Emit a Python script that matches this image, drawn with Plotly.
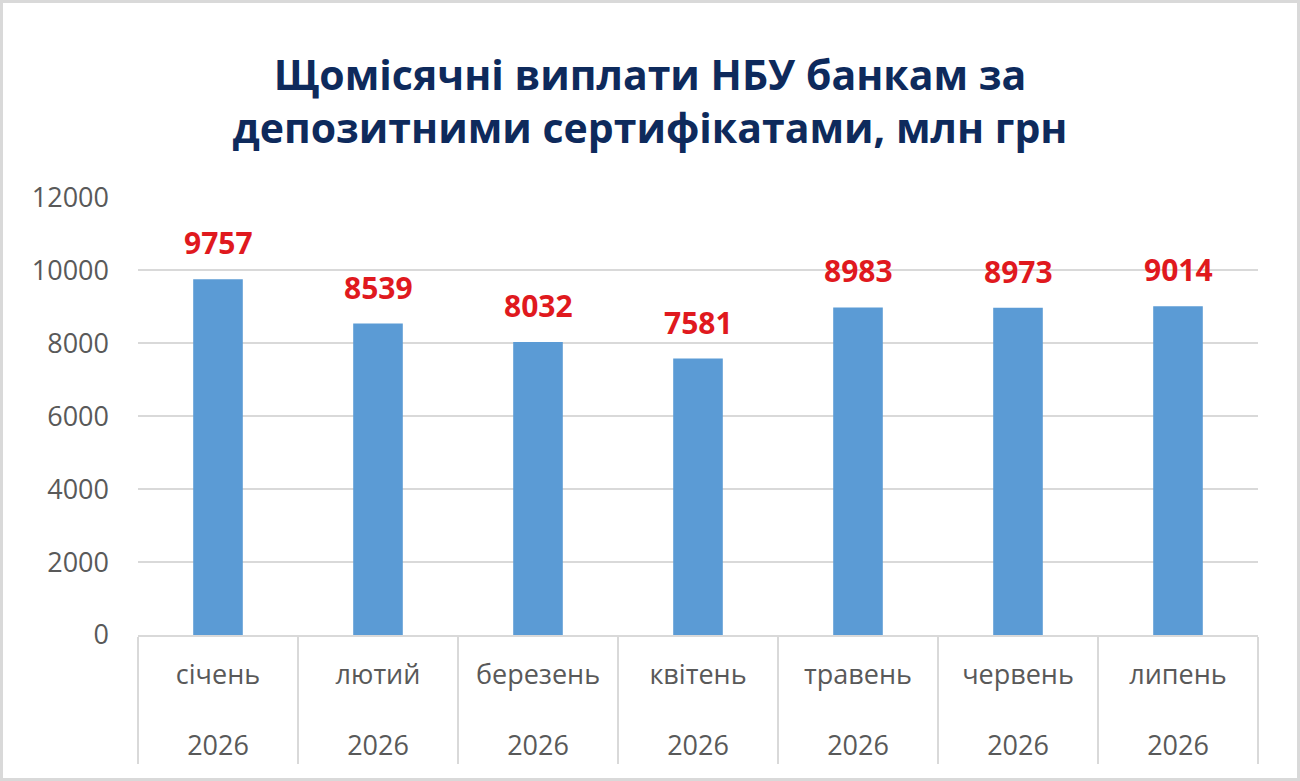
import plotly.graph_objects as go

# monthly NBU payments on deposit certificates, mln UAH
months = ['січень', 'лютий', 'березень', 'квітень', 'травень', 'червень', 'липень']
years = ['2026'] * 7
payments = [9757, 8539, 8032, 7581, 8983, 8973, 9014]

y_ticks = [0, 2000, 4000, 6000, 8000, 10000, 12000]

W, H = 1300, 781
L, R, T, B = 138, 42, 197, 146

tick_text = [m + '<br><br>' + y for m, y in zip(months, years)]

fig = go.Figure()

fig.add_trace(go.Bar(
    x = months,
    y = payments,
    marker = dict(color = '#5b9bd5', line = dict(width = 0)),
    hoverinfo = 'x+y'
))

# data labels above bars
for m, v in zip(months, payments):
    fig.add_annotation(
        x = m, y = v, text = '<b>' + str(v) + '</b>',
        showarrow = False, yanchor = 'bottom', yshift = 14,
        font = dict(family = 'Open Sans', size = 30, color = '#e0191e')
    )

# light border round the whole chart
pw, ph = W - L - R, H - T - B
fig.add_shape(
    type = 'rect', xref = 'paper', yref = 'paper',
    x0 = -(L - 1.5) / pw, x1 = 1 + (R - 1.5) / pw,
    y0 = -(B - 1.5) / ph, y1 = 1 + (T - 1.5) / ph,
    line = dict(color = '#d9d9d9', width = 3), layer = 'below'
)

fig.update_layout(
    width = W, height = H,
    margin = dict(l = L, r = R, t = T, b = B),
    paper_bgcolor = 'white',
    plot_bgcolor = 'white',
    showlegend = False,
    bargap = 0.69,
    font = dict(family = 'Open Sans', color = '#595959'),
    title = dict(
        text = '<b>Щомісячні виплати НБУ банкам за<br>депозитними сертифікатами, млн грн</b>',
        x = 0.5, xanchor = 'center', xref = 'container',
        y = 1 - 90 / H, yanchor = 'top',
        font = dict(family = 'Open Sans', size = 41, color = '#0e2a5c')
    )
)

fig.update_xaxes(
    type = 'category',
    tickmode = 'array', tickvals = months, ticktext = tick_text,
    tickson = 'boundaries', ticks = 'outside', ticklen = 127,
    tickcolor = '#d9d9d9', tickwidth = 2,
    ticklabelstandoff = 15,
    showline = True, linecolor = '#d9d9d9', linewidth = 2,
    showgrid = False,
    tickfont = dict(family = 'Open Sans', size = 27, color = '#595959')
)

fig.update_yaxes(
    range = [0, 12010],
    tickmode = 'array', tickvals = y_ticks, tickformat = 'd',
    showgrid = True, gridcolor = '#d9d9d9', gridwidth = 2,
    zeroline = False,
    ticklabelstandoff = 28,
    tickfont = dict(family = 'Open Sans', size = 27, color = '#595959')
)

fig.write_html('out.html', config = {'displayModeBar': False},
               post_script = "document.body.style.margin = '0';")
